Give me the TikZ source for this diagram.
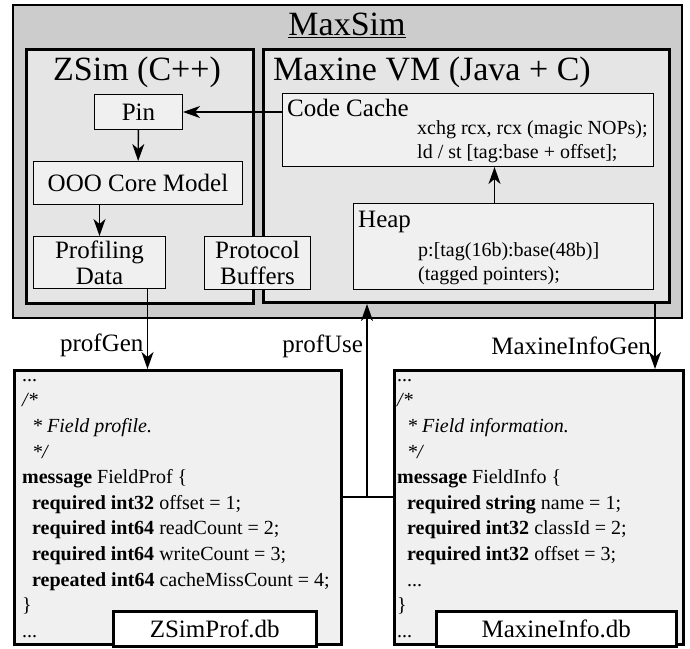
\documentclass[tikz,border=0pt]{standalone}
\usepackage{fontspec}
\setmainfont{Liberation Serif}
\usepackage{tikz}
\usetikzlibrary{arrows.meta}

\newcommand{\bigfont}{\fontsize{34}{40}\selectfont}
\newcommand{\boxfont}{\fontsize{25}{26}\selectfont}
\newcommand{\codefont}{\fontsize{20}{24}\selectfont}
\newcommand{\dbfont}{\fontsize{20}{25.6}\selectfont}

\begin{document}
\begin{tikzpicture}[x=1pt,y=-1pt,
	frame/.style={draw, anchor=north west, inner sep=0pt},
	maxsimbox/.style={frame, line width=2pt, fill=black!20},
	vmbox/.style={frame, line width=3pt, fill=black!10},
	panel/.style={frame, line width=1pt, fill=black!6},
	unit/.style={panel, font=\boxfont, align=center},
	dbbox/.style={frame, line width=2.5pt, fill=black!6},
	dbname/.style={frame, line width=2.5pt, fill=white, font=\boxfont},
	title/.style={font=\bigfont, inner sep=0pt},
	heading/.style={font=\boxfont, anchor=base west, inner sep=0pt},
	code/.style={font=\codefont, anchor=north west, align=left, inner sep=0pt},
	dbcode/.style={font=\dbfont, anchor=north west, align=left, inner sep=0pt},
	arr/.style={-{Stealth[length=17pt,width=12pt,inset=5pt]}, line width=1.4pt},
	link/.style={line width=1.4pt},
	flow/.style={font=\boxfont}]
\useasboundingbox (0,0) rectangle (690,648);

\node[maxsimbox, minimum width=669pt, minimum height=313pt] (maxsim) at (12,4) {};
\node[title, anchor=base] (maxsimtitle) at (347,35) {\underline{MaxSim}};

\node[vmbox, minimum width=227pt, minimum height=254pt] (zsim) at (25,48) {};
\node[title, anchor=base] (zsimtitle) at (137,80) {ZSim (C++)};
\node[vmbox, minimum width=406pt, minimum height=253pt] (maxine) at (262,48) {};
\node[title, anchor=base west] (maxinetitle) at (273,80) {Maxine VM (Java + C)};

\node[unit, minimum width=88pt, minimum height=35pt] (pin) at (94,94) {Pin};
\node[unit, minimum width=209pt, minimum height=43pt] (ooo) at (33,161) {OOO Core Model};
\node[unit, minimum width=132pt, minimum height=52pt] (prof) at (33,236) {Profiling\\Data};

\node[panel, minimum width=371pt, minimum height=73pt] (cache) at (282,93) {};
\node[heading] (cachetitle) at (287,116) {Code Cache};
\node[code] (cachecode) at (417,117.2) {\strut xchg rcx, rcx (magic NOPs);\\ld / st [tag:base + offset];};

\node[panel, minimum width=300pt, minimum height=86pt] (heap) at (353,203) {};
\node[heading] (heaptitle) at (358,227) {Heap};
\node[code] (heapcode) at (418,239.2) {\strut p:[tag(16b):base(48b)]\\(tagged pointers);};

\node[unit, minimum width=106pt, minimum height=53pt] (protobuf) at (204,236) {Protocol\\Buffers};

\node[dbbox, minimum width=327pt, minimum height=274pt] (zprof) at (13,369) {};
\node[dbcode] (zproftext) at (22,363.1) {\strut...\\
	\textit{/*}\\
	\hspace*{0.5em}\textit{* Field profile.}\\
	\hspace*{0.5em}\textit{*/}\\
	\textbf{message} FieldProf \{\\
	\hspace*{0.5em}\textbf{required int32} offset = 1;\\
	\hspace*{0.5em}\textbf{required int64} readCount = 2;\\
	\hspace*{0.5em}\textbf{required int64} writeCount = 3;\\
	\hspace*{0.5em}\textbf{repeated int64} cacheMissCount = 4;\\
	\}\\
	...};
\node[dbname, minimum width=203pt, minimum height=35pt] (zprofname) at (112,610) {ZSimProf.db};

\node[dbbox, minimum width=289pt, minimum height=274pt] (minfo) at (393,369) {};
\node[dbcode] (minfotext) at (397,363.1) {\strut...\\
	\textit{/*}\\
	\hspace*{0.5em}\textit{* Field information.}\\
	\hspace*{0.5em}\textit{*/}\\
	\textbf{message} FieldInfo \{\\
	\hspace*{0.5em}\textbf{required string} name = 1;\\
	\hspace*{0.5em}\textbf{required int32} classId = 2;\\
	\hspace*{0.5em}\textbf{required int32} offset = 3;\\
	\hspace*{0.5em}...\\
	\}\\
	...};
\node[dbname, minimum width=240pt, minimum height=35pt] (minfoname) at (435,610) {MaxineInfo.db};

\draw[arr] (pin.east -| cache.west) -- (pin.east);
\draw[arr] (pin) -- (ooo);
\draw[arr] (ooo.south -| prof) -- (prof);
\draw[arr] ([xshift=-9pt]heap.north) -- ([xshift=-9pt]heap.north |- cache.south);

\draw[arr] ([xshift=48pt]prof.south) -- ([xshift=48pt]prof.south |- zprof.north)
	node[flow, pos=0.7, left] (profgen) {profGen};

\coordinate (merge) at (367,497);
\draw[link] (zprof.east |- merge) -- (minfo.west |- merge);
\draw[arr] (merge) -- (merge |- maxine.south)
	node[flow, pos=0.78, left] (profuse) {profUse};

\draw[arr] ([xshift=-16pt]maxine.south east) -- ([xshift=-16pt]maxine.south east |- minfo.north)
	node[flow, pos=0.65, left] (infogen) {MaxineInfoGen};
\end{tikzpicture}
\end{document}
